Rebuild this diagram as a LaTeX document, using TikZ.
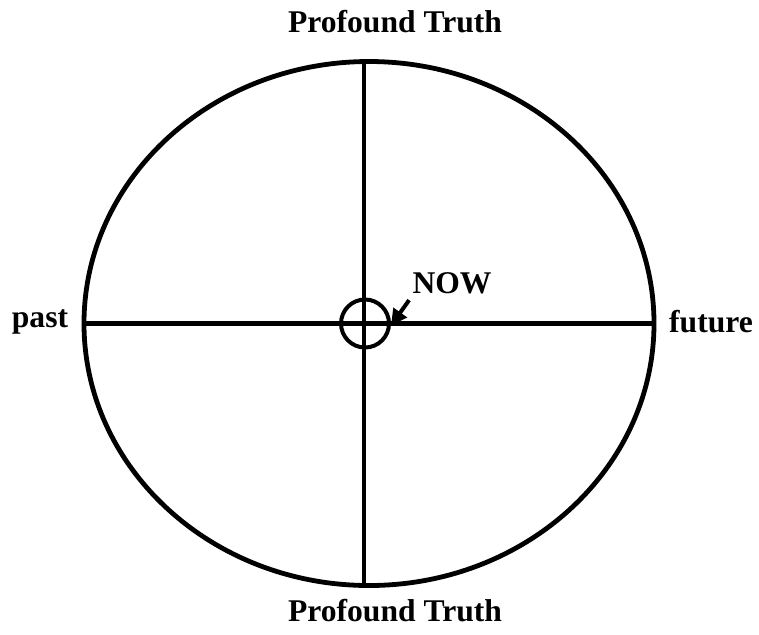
\documentclass[tikz,border=0pt]{standalone}
\usepackage{fontspec}
\setmainfont{Liberation Serif}
\usetikzlibrary{arrows.meta}

\tikzset{
  axis/.style={line width=2.4pt},
  lbl/.style={font=\fontsize{15.8}{19}\selectfont\bfseries, inner sep=0pt},
}

\begin{document}
\begin{tikzpicture}[x=0.5pt, y=-0.5pt]
  \useasboundingbox (0,0) rectangle (759,634);

  \draw[axis] (369,323.5) ellipse (285 and 262);
  \draw[axis] (364,61.5) -- (364,585.5);
  \draw[axis] (84,323.5) -- (654,323.5);

  \node[draw, circle, line width=2pt, minimum size=24pt, inner sep=0pt] (ring) at (365,323.5) {};

  \node[lbl] (top) at (395,22) {Profound Truth};
  \node[lbl] (bottom) at (395,611) {Profound Truth};
  \node[lbl] (past) at (40,322) {past};
  \node[lbl] (future) at (711,322) {future};
  \node[lbl] (nowlbl) at (452,283) {NOW};

  \draw[line width=2pt, -{Triangle[length=8pt,width=8pt]}] ([shift={(-3,6)}]nowlbl.south west) -- ([yshift=-1]ring.east);
\end{tikzpicture}
\end{document}
